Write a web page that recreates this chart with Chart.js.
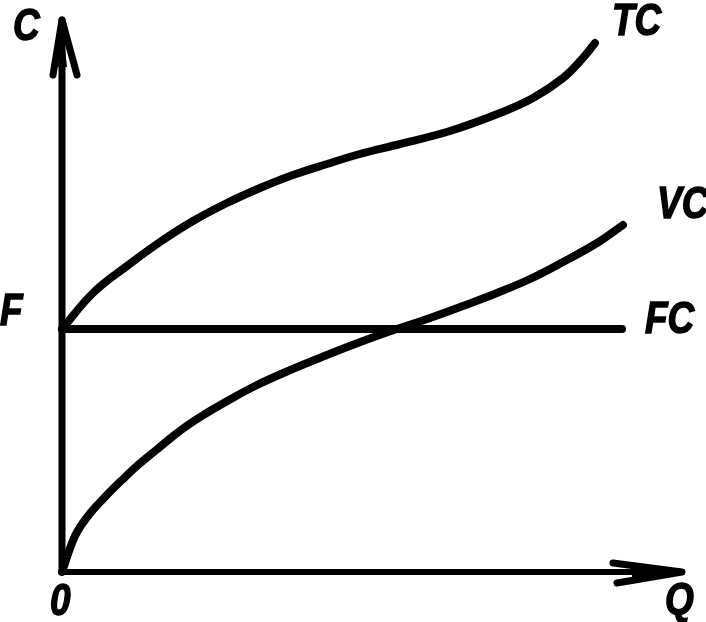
<!DOCTYPE html>
<html>
<head>
<meta charset="utf-8">
<script src="https://cdn.jsdelivr.net/npm/chart.js@4.4.1/dist/chart.umd.min.js"></script>
<style>
  html, body { margin: 0; padding: 0; background: #fff; }
  #wrap { width: 706px; height: 622px; position: relative; }
</style>
</head>
<body>
<div id="wrap"><canvas id="c" width="706" height="622"></canvas></div>
<script>
// Quantity (Q) and cost (C) readings in chart units (origin at 0,0)
const fcLevel = 243;
const fcQ = [0, 560];
const tcQ = [0, 31, 65, 98, 131, 165, 198, 231, 265, 298, 338, 388, 438, 471, 501, 520, 533];
const tcC = [243, 279, 306, 330, 351, 369, 384, 397, 408, 418, 428, 441, 459, 474, 494, 513, 529];
const vcQ = [0, 13, 26, 43, 60, 76, 93, 110, 126, 143, 160, 193, 226, 260, 293, 326, 368, 401, 435, 468, 501, 535, 561];
const vcC = [0, 36, 56, 75, 92, 107, 121, 135, 147, 158, 168, 186, 201, 215, 228, 240, 254, 266, 279, 293, 310, 329, 347];
const axisQMax = 620;   // x-axis arrow tip
const axisCMax = 552;   // y-axis arrow tip

const pts = (xs, ys) => xs.map((x, i) => ({ x: x, y: ys[i] }));

const lineStyle = {
  borderColor: '#000',
  borderWidth: 8,
  pointRadius: 0,
  fill: false,
  tension: 0.4,
  borderCapStyle: 'round',
  borderJoinStyle: 'round'
};

const axesPlugin = {
  id: 'axes',
  beforeDatasetsDraw(chart) {
    const { ctx, scales: { x, y } } = chart;
    const X = v => x.getPixelForValue(v), Y = v => y.getPixelForValue(v);
    ctx.save();
    ctx.strokeStyle = '#000';
    ctx.fillStyle = '#000';
    ctx.lineCap = 'round';
    ctx.lineJoin = 'round';
    ctx.lineWidth = 7;
    // y axis
    ctx.beginPath(); ctx.moveTo(X(0), Y(0)); ctx.lineTo(X(0), Y(axisCMax)); ctx.stroke();
    // x axis
    ctx.lineWidth = 6;
    ctx.beginPath(); ctx.moveTo(X(0), Y(0)); ctx.lineTo(X(axisQMax), Y(0)); ctx.stroke();
    // y arrowhead
    ctx.lineWidth = 7;
    ctx.beginPath();
    ctx.moveTo(X(-9), Y(497)); ctx.lineTo(X(0), Y(axisCMax)); ctx.lineTo(X(15), Y(497));
    ctx.stroke();
    ctx.beginPath();
    ctx.moveTo(X(-4), Y(505)); ctx.lineTo(X(0), Y(axisCMax)); ctx.lineTo(X(5), Y(505)); ctx.closePath(); ctx.fill();
    // x arrowhead
    ctx.beginPath();
    ctx.moveTo(X(551), Y(9)); ctx.lineTo(X(axisQMax), Y(0)); ctx.lineTo(X(555), Y(-11));
    ctx.stroke();
    ctx.beginPath();
    ctx.moveTo(X(570), Y(5)); ctx.lineTo(X(axisQMax), Y(0)); ctx.lineTo(X(570), Y(-6)); ctx.closePath(); ctx.fill();
    ctx.restore();
  }
};

const labelPlugin = {
  id: 'labels',
  afterDraw(chart) {
    const ctx = chart.ctx;
    const labels = [
      ['C', 13, 40], ['TC', 612, 35], ['VC', 657, 218], ['FC', 645, 333],
      ['F', 0, 325], ['0', 50, 615], ['Q', 665, 614]
    ];
    ctx.save();
    ctx.fillStyle = '#000';
    ctx.strokeStyle = '#000';
    ctx.lineWidth = 1.5;
    ctx.font = "italic bold 44px 'Liberation Sans', Arial, sans-serif";
    ctx.textBaseline = 'alphabetic';
    ctx.textAlign = 'left';
    labels.forEach(([t, lx, ly]) => {
      ctx.save();
      ctx.translate(lx, ly);
      ctx.scale(0.84, 1);
      ctx.fillText(t, 0, 0);
      ctx.strokeText(t, 0, 0);
      ctx.restore();
    });
    ctx.restore();
  }
};

new Chart(document.getElementById('c'), {
  type: 'line',
  data: {
    datasets: [
      Object.assign({ label: 'FC', data: pts(fcQ, fcQ.map(() => fcLevel)) }, lineStyle, { tension: 0 }),
      Object.assign({ label: 'TC', data: pts(tcQ, tcC) }, lineStyle),
      Object.assign({ label: 'VC', data: pts(vcQ, vcC) }, lineStyle)
    ]
  },
  options: {
    responsive: false,
    animation: false,
    events: [],
    layout: { padding: 0 },
    plugins: { legend: { display: false }, tooltip: { enabled: false } },
    scales: {
      x: { type: 'linear', min: -62, max: 644, display: false },
      y: { type: 'linear', min: -50, max: 572, display: false }
    }
  },
  plugins: [axesPlugin, labelPlugin]
});
</script>
</body>
</html>
